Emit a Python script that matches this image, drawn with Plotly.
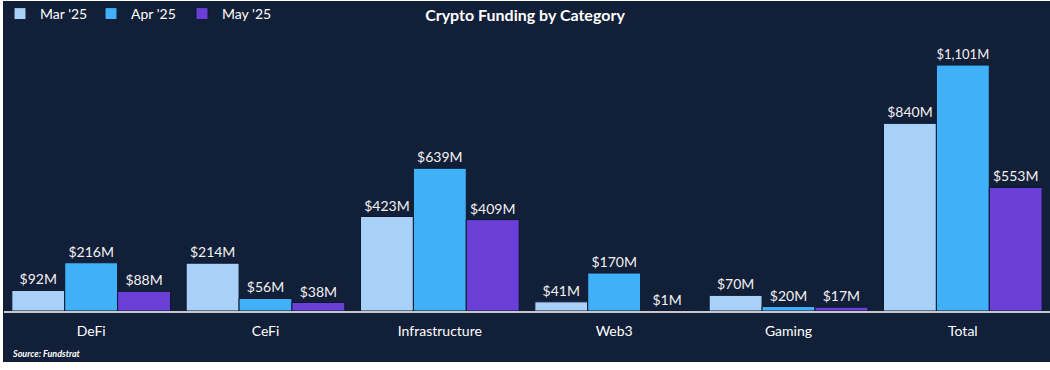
import plotly.graph_objects as go

categories = ["DeFi", "CeFi", "Infrastructure", "Web3", "Gaming", "Total"]
mar_25 = [92, 214, 423, 41, 70, 840]
apr_25 = [216, 56, 639, 170, 20, 1101]
may_25 = [88, 38, 409, 1, 17, 553]
series_names = ["Mar '25", "Apr '25", "May '25"]
series_colors = ["#a9d1f7", "#40b1f8", "#6a3fd7"]

BG = "#121f38"
FONT = "Lato, 'Open Sans', sans-serif"

fig = go.Figure()
for name, vals, col in zip(series_names, [mar_25, apr_25, may_25], series_colors):
    fig.add_trace(go.Bar(
        name=name, x=categories, y=vals,
        marker=dict(color=col, line=dict(color="#0e1830", width=1)),
        texttemplate="$%{y:,}M", textposition="outside",
        textfont=dict(color="#f2f2f2", size=14, family=FONT),
        cliponaxis=False,
    ))

# dark panel with thin white border on left/bottom
W, H = 1050, 370
l, r, t, b = 4, 0, 30, 59
pw, ph = W - l - r, H - t - b
def px_x(p): return (p - l) / pw
def px_y(p): return (H - b - p) / ph

fig.add_shape(type="rect", xref="paper", yref="paper",
              x0=px_x(3), x1=px_x(1052), y0=px_y(362), y1=px_y(1),
              fillcolor=BG, line=dict(width=0), layer="below")

fig.add_annotation(text="<b><i>Source: Fundstrat</i></b>", xref="paper", yref="paper",
                   x=px_x(10), y=px_y(353), xanchor="left", yanchor="middle",
                   showarrow=False, font=dict(color="#ffffff", size=9, family=FONT))

fig.update_layout(
    width=W, height=H,
    margin=dict(l=l, r=r, t=t, b=b),
    paper_bgcolor="#ffffff",
    plot_bgcolor="rgba(0,0,0,0)",
    barmode="group", bargap=0.09, bargroupgap=0,
    title=dict(text="<b>Crypto Funding by Category</b>", x=0.5, xanchor="center",
               y=1 - 15 / H, yanchor="middle",
               font=dict(color="#ffffff", size=16, family=FONT)),
    legend=dict(orientation="h", x=px_x(-3), xanchor="left", y=1 - 14 / H, yanchor="middle",
                yref="container", font=dict(color="#ffffff", size=14, family=FONT),
                itemwidth=30, entrywidth=46, entrywidthmode="pixels",
                bgcolor="rgba(0,0,0,0)", traceorder="normal"),
    xaxis=dict(showline=True, linecolor="#c8c8c8", linewidth=2, ticks="",
               tickfont=dict(color="#ffffff", size=14, family=FONT),
               ticklabelstandoff=6, showgrid=False),
    yaxis=dict(range=[0, 1258], visible=False, showgrid=False),
    font=dict(family=FONT),
)

fig.write_html("out.html", config={"displayModeBar": False},
               post_script="document.body.style.margin='0';document.body.style.padding='0';")
